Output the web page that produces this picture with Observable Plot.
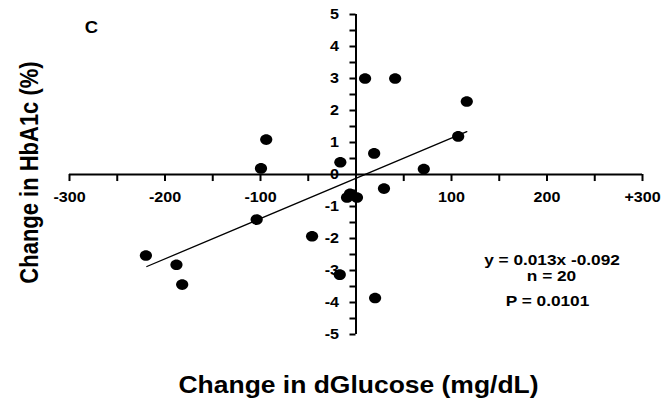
<!DOCTYPE html>
<html>
<head>
<meta charset="utf-8">
<script src="https://cdn.jsdelivr.net/npm/d3@7"></script>
<script src="https://cdn.jsdelivr.net/npm/@observablehq/plot@0.6"></script>
<style>
  html, body { margin: 0; padding: 0; background: #fff; }
  svg { display: block; }
</style>
</head>
<body>
<div id="chart"></div>
<script>
// ---- data ----
const glucose = [-94, -99.5, 9.5, 41, 116, 107, 19, 71, -16.4, 29.3, -9.4, -6.3, 1, -104, -46, -220, -188, -182, -17, 20];
const hba1c   = [1.09, 0.19, 3.0, 3.0, 2.28, 1.19, 0.66, 0.17, 0.385, -0.44, -0.72, -0.6, -0.72, -1.41, -1.93, -2.53, -2.82, -3.44, -3.13, -3.86];
const fitX = [-219, 116];
const fitY = [-2.875, 1.34];
const xTickValues = [-300, -250, -200, -150, -100, -50, 50, 100, 150, 200, 250, 300];
const xLabelValues = [-300, -200, -100, 100, 200, 300];
const xLabelTexts = ["-300", "-200", "-100", "100", "200", "+300"];
const yTickValues = [-5, -4.5, -4, -3.5, -3, -2.5, -2, -1.5, -1, -0.5, 0.5, 1, 1.5, 2, 2.5, 3, 3.5, 4, 4.5, 5];
const yLabelValues = [5, 4, 3, 2, 1, 0, -1, -2, -3, -4, -5];
const yLabelTexts = ["5", "4", "3", "2", "1", "0", "-1", "-2", "-3", "-4", "-5"];
const statLines = ["y = 0.013x -0.092", "n = 20", "P = 0.0101"];

const points = glucose.map((g, i) => ({x: g, y: hba1c[i]}));
const fit = fitX.map((g, i) => ({x: g, y: fitY[i]}));
const xLabels = xLabelValues.map((v, i) => ({v, t: xLabelTexts[i]}));
const yLabels = yLabelValues.map((v, i) => ({v, t: yLabelTexts[i]}));

const FONT = "'Liberation Sans', Arial, Helvetica, sans-serif";

// ellipse symbol (the reference is stretched horizontally)
const K = 0.5523;
const ellipse = {
  draw(ctx, size) {
    const r = Math.sqrt(size / Math.PI), rx = r * 1.15, ry = r;
    ctx.moveTo(rx, 0);
    ctx.bezierCurveTo(rx, ry * K, rx * K, ry, 0, ry);
    ctx.bezierCurveTo(-rx * K, ry, -rx, ry * K, -rx, 0);
    ctx.bezierCurveTo(-rx, -ry * K, -rx * K, -ry, 0, -ry);
    ctx.bezierCurveTo(rx * K, -ry, rx, -ry * K, rx, 0);
    ctx.closePath();
  }
};

const T = {textAnchor: "middle", lineAnchor: "middle", fill: "#000"};

const chart = Plot.plot({
  width: 662,
  height: 398,
  marginLeft: 69,
  marginRight: 20,
  marginTop: 14,
  marginBottom: 64,
  x: {domain: [-300, 300], axis: null},
  y: {domain: [-5, 5], axis: null},
  style: {fontFamily: FONT, background: "#fff", color: "#000"},
  marks: [
    // axes through the origin
    Plot.ruleY([0], {stroke: "#000", strokeWidth: 2}),
    Plot.ruleX([0], {stroke: "#000", strokeWidth: 2}),
    Plot.ruleX(xTickValues, {x: d => d, y1: 0, y2: -0.22, stroke: "#000", strokeWidth: 2}),
    Plot.ruleY(yTickValues, {y: d => d, x1: -6.3, x2: 0, stroke: "#000", strokeWidth: 2}),
    Plot.text(xLabels, {x: "v", y: 0, text: "t", dy: 23, fontSize: 14, fontWeight: "bold", fill: "#000"}),
    Plot.text(yLabels, {x: 0, y: "v", text: "t", dx: -17, textAnchor: "end", fontSize: 14, fontWeight: "bold", fill: "#000"}),
    // regression line
    Plot.line(fit, {x: "x", y: "y", stroke: "#000", strokeWidth: 1.3}),
    // points
    Plot.dot(points, {x: "x", y: "y", r: 5.3, symbol: ellipse, fill: "#000", stroke: "none"}),
    // panel letter
    Plot.text(["C"], {...T, frameAnchor: "top-left", dx: 22, dy: 13.5, fontSize: 16, fontWeight: "bold"}),
    // statistics
    Plot.text([statLines[0]], {...T, frameAnchor: "top-left", dx: 482.5, dy: 246, fontSize: 15, fontWeight: "bold"}),
    Plot.text([statLines[1]], {...T, frameAnchor: "top-left", dx: 482, dy: 262, fontSize: 15, fontWeight: "bold"}),
    Plot.text([statLines[2]], {...T, frameAnchor: "top-left", dx: 478, dy: 287, fontSize: 15, fontWeight: "bold"}),
    // axis titles
    Plot.text(["Change in dGlucose (mg/dL)"], {...T, frameAnchor: "bottom", dx: 2.5, dy: 51, fontSize: 23, fontWeight: "bold"}),
    Plot.text(["Change in HbA1c (%)"], {...T, frameAnchor: "left", dx: -40, dy: -2, rotate: -90, fontSize: 22, fontWeight: "bold"})
  ]
});

document.getElementById("chart").appendChild(chart);

// mimic the horizontal stretch of the reference image
const STRETCH = 1.15;
chart.querySelectorAll("text").forEach(t => {
  if (t.textContent === "Change in HbA1c (%)") {
    const tr = t.getAttribute("transform");
    if (tr && tr.includes("rotate")) t.setAttribute("transform", tr + ` scale(1,${STRETCH})`);
    else if (t.parentNode.getAttribute("transform")) {
      const g = t.parentNode;
      g.setAttribute("transform", g.getAttribute("transform") + ` scale(1,${STRETCH})`);
    }
    return;
  }
  const w = t.getComputedTextLength();
  if (w > 0) {
    t.setAttribute("textLength", (w * STRETCH).toFixed(2));
    t.setAttribute("lengthAdjust", "spacingAndGlyphs");
  }
});
</script>
</body>
</html>
